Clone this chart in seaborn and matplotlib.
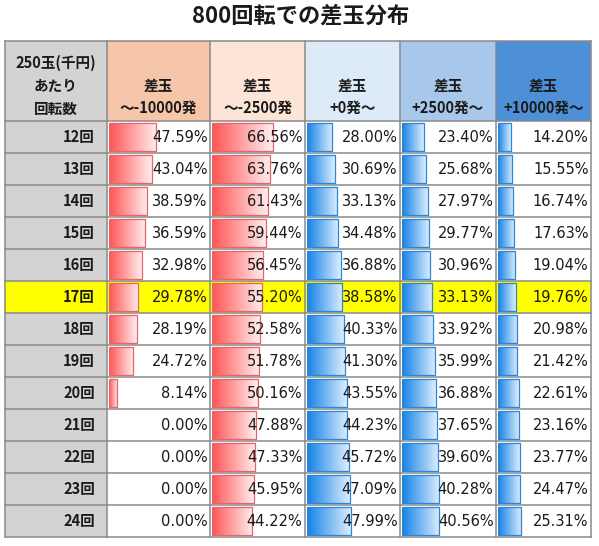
import numpy as np
import pandas as pd
import matplotlib
matplotlib.use("Agg")
import matplotlib.pyplot as plt
import matplotlib.transforms as mtransforms
from matplotlib.patches import Rectangle
from matplotlib.colors import to_rgb
import seaborn as sns

# ---------------- data ----------------
title = "800回転での差玉分布"
row_labels = ["12回", "13回", "14回", "15回", "16回", "17回", "18回",
              "19回", "20回", "21回", "22回", "23回", "24回"]
corner_label = ["250玉(千円)", "あたり", "回転数"]
col_labels = [["差玉", "～-10000発"], ["差玉", "～-2500発"], ["差玉", "+0発～"],
              ["差玉", "+2500発～"], ["差玉", "+10000発～"]]
minus10000 = [47.59, 43.04, 38.59, 36.59, 32.98, 29.78, 28.19, 24.72, 8.14, 0.00, 0.00, 0.00, 0.00]
minus2500 = [66.56, 63.76, 61.43, 59.44, 56.45, 55.20, 52.58, 51.78, 50.16, 47.88, 47.33, 45.95, 44.22]
plus0 = [28.00, 30.69, 33.13, 34.48, 36.88, 38.58, 40.33, 41.30, 43.55, 44.23, 45.72, 47.09, 47.99]
plus2500 = [23.40, 25.68, 27.97, 29.77, 30.96, 33.13, 33.92, 35.99, 36.88, 37.65, 39.60, 40.28, 40.56]
plus10000 = [14.20, 15.55, 16.74, 17.63, 19.04, 19.76, 20.98, 21.42, 22.61, 23.16, 23.77, 24.47, 25.31]
highlight_row = "17回"

series = [minus10000, minus2500, plus0, plus2500, plus10000]

# ---------------- style ----------------
sns.set_theme(style="white")
plt.rcParams["font.family"] = ["Noto Sans CJK JP", "DejaVu Sans"]

W, H = 599, 546
fig = plt.figure(figsize=(W / 100, H / 100), dpi=100)
fig.patch.set_facecolor("white")

col_x = [5, 107, 210, 305, 400, 496, 591]
head_top, head_bot = 41, 121
row_h = 32
n_rows = len(row_labels)
table_bot = head_bot + row_h * n_rows

header_colors = ["#d3d3d3", "#f5c6a9", "#fce4d6", "#ddebf8", "#a8c8eb", "#4e90d8"]
label_bg = "#d3d3d3"
hl_color = "#ffff00"
grid_color = "#8a8a8a"
text_color = "#1a1a1a"

bar_styles = [
    ("#ff5454", "#ffeeee", "#e8646a"),
    ("#ff5454", "#ffeeee", "#e8646a"),
    ("#1482e6", "#ddeeff", "#2a86d8"),
    ("#1482e6", "#ddeeff", "#2a86d8"),
    ("#1482e6", "#ddeeff", "#2a86d8"),
]

# ---------------- background axes (pixel coordinates) ----------------
bg = fig.add_axes([0, 0, 1, 1])
bg.set_xlim(0, W)
bg.set_ylim(H, 0)
bg.axis("off")

bg.text(W / 2 + 1, 16, title, ha="center", va="center", fontsize=16,
        fontweight="bold", color=text_color)

# header cells
for j in range(6):
    bg.add_patch(Rectangle((col_x[j], head_top), col_x[j + 1] - col_x[j],
                           head_bot - head_top, facecolor=header_colors[j],
                           edgecolor="none", zorder=1))
# corner label
for k, t in enumerate(corner_label):
    bg.text((col_x[0] + col_x[1]) / 2, 63 + 23 * k, t, ha="center", va="center",
            fontsize=10.5, fontweight="bold", color=text_color, zorder=3)
for j, (l1, l2) in enumerate(col_labels):
    cx = (col_x[j + 1] + col_x[j + 2]) / 2
    bg.text(cx, 86, l1, ha="center", va="center", fontsize=10.5,
            fontweight="bold", color=text_color, zorder=3)
    bg.text(cx, 108, l2, ha="center", va="center", fontsize=10.5,
            fontweight="bold", color=text_color, zorder=3)

# row cells
for i, lab in enumerate(row_labels):
    y0 = head_bot + i * row_h
    if lab == highlight_row:
        bg.add_patch(Rectangle((col_x[0], y0), col_x[-1] - col_x[0], row_h,
                               facecolor=hl_color, edgecolor="none", zorder=1))
    else:
        bg.add_patch(Rectangle((col_x[0], y0), col_x[1] - col_x[0], row_h,
                               facecolor=label_bg, edgecolor="none", zorder=1))
    bg.text(col_x[1] - 12, y0 + row_h / 2, lab, ha="right", va="center",
            fontsize=10.5, fontweight="bold", color=text_color, zorder=3)

# grid lines
lw = 1.1
for y in [head_top] + [head_bot + i * row_h for i in range(n_rows + 1)]:
    bg.plot([col_x[0], col_x[-1]], [y, y], color=grid_color, lw=lw, zorder=2,
            solid_capstyle="projecting")
for x in col_x:
    bg.plot([x, x], [head_top, table_bot], color=grid_color, lw=lw, zorder=2,
            solid_capstyle="projecting")

# ---------------- data bar axes ----------------
def gradient_img(c0, c1, n=256):
    a = np.array(to_rgb(c0))
    b = np.array(to_rgb(c1))
    t = np.linspace(0, 1, n)[:, None]
    return (a * (1 - t) + b * t)[None, :, :]

for j, vals in enumerate(series):
    x0 = col_x[j + 1] + 2
    x1 = col_x[j + 2] - 2
    left = x0 / W
    width = (x1 - x0) / W
    bottom = 1 - table_bot / H
    height = (table_bot - head_bot) / H
    ax = fig.add_axes([left, bottom, width, height])
    ax.set_facecolor("none")
    df = pd.DataFrame({"row": row_labels, "value": vals})
    c_start, c_end, c_edge = bar_styles[j]
    sns.barplot(data=df, x="value", y="row", orient="h", ax=ax, width=0.85,
                color=c_start, errorbar=None, saturation=1)
    img = gradient_img(c_start, c_end)
    for p, v in zip(ax.patches, vals):
        bx, by, bw, bh = p.get_x(), p.get_y(), p.get_width(), p.get_height()
        p.set_facecolor("none")
        if v <= 0:
            p.set_edgecolor("none")
            continue
        p.set_edgecolor(c_edge)
        p.set_linewidth(0.9)
        p.set_zorder(3)
        im = ax.imshow(img, extent=[bx, bx + bw, by + bh, by], aspect="auto",
                       interpolation="bilinear", zorder=2)
        im.set_clip_path(p)
    trans = mtransforms.blended_transform_factory(ax.transAxes, ax.transData)
    for i, v in enumerate(vals):
        ax.text(0.995, i + 0.02, f"{v:.2f}%", transform=trans, ha="right",
                va="center", fontsize=10.5, color=text_color, zorder=5,
                clip_on=False, family=["DejaVu Sans"])
    ax.set_xlim(0, 100)
    ax.set_ylim(n_rows - 0.5, -0.5)
    ax.axis("off")

fig.savefig("out.png", dpi=100, facecolor="white")
